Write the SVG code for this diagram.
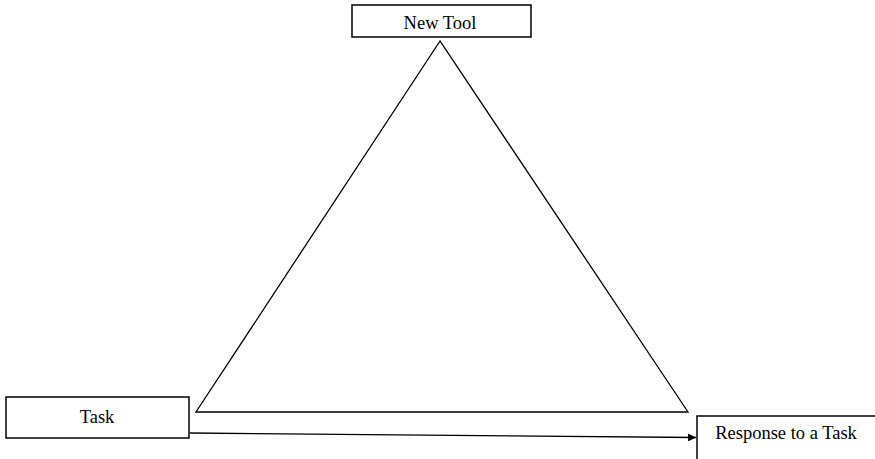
<svg xmlns="http://www.w3.org/2000/svg" width="875" height="459" viewBox="0 0 875 459">
<style>
.box{fill:#fff;stroke:#000;stroke-width:1.5}
.lbl{font-family:"Liberation Serif","DejaVu Serif","Times New Roman",serif;font-size:18.5px;fill:#000;text-anchor:middle}
.ln{fill:none;stroke:#000;stroke-width:1.3}
</style>
<defs>
<marker id="arr" viewBox="0 0 10 10" refX="10" refY="5" markerWidth="8" markerHeight="8" markerUnits="userSpaceOnUse" orient="auto">
<path d="M0,0 L10,5 L0,10 z" fill="#000"/>
</marker>
</defs>
<rect width="875" height="459" fill="#fff"/>
<g id="connectors">
<polygon class="ln" points="440,41 196,412 688,412"/>
<line class="ln" x1="190" y1="433" x2="696" y2="437.5" marker-end="url(#arr)"/>
</g>
<g id="new-tool">
<rect class="box" x="352" y="5" width="179" height="32"/>
<text class="lbl" x="440" y="29">New Tool</text>
</g>
<g id="task">
<rect class="box" x="6" y="397" width="183" height="41"/>
<text class="lbl" x="97" y="423">Task</text>
</g>
<g id="response">
<rect class="box" x="697" y="416" width="190" height="60"/>
<text class="lbl" x="786" y="439">Response to a Task</text>
</g>
</svg>
